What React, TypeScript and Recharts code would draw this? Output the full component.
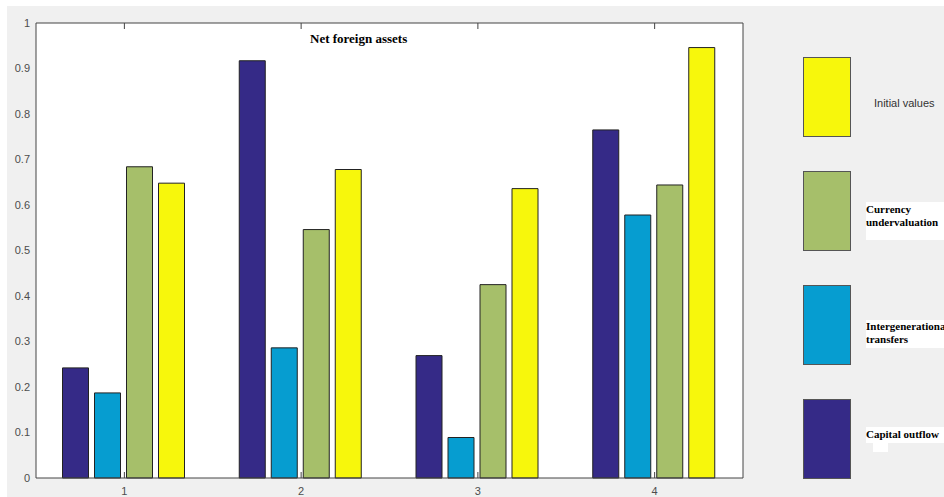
import React from "react";
import { BarChart, Bar, XAxis, YAxis, CartesianGrid } from "recharts";

const categories = ["1", "2", "3", "4"];
const capitalOutflow = [0.242, 0.917, 0.269, 0.765];
const intergenerational = [0.187, 0.286, 0.089, 0.578];
const currencyUndervaluation = [0.684, 0.546, 0.425, 0.644];
const initialValues = [0.648, 0.678, 0.636, 0.946];
const yTicks = [0, 0.1, 0.2, 0.3, 0.4, 0.5, 0.6, 0.7, 0.8, 0.9, 1];
const yTickLabels = ["0", "0.1", "0.2", "0.3", "0.4", "0.5", "0.6", "0.7", "0.8", "0.9", "1"];

const series = [
  { key: "capital", name: "Capital outflow", color: "#352a87", values: capitalOutflow },
  { key: "intergen", name: "Intergenerational transfers", color: "#069dd0", values: intergenerational },
  { key: "currency", name: "Currency undervaluation", color: "#a6bf6a", values: currencyUndervaluation },
  { key: "initial", name: "Initial values", color: "#f7f70c", values: initialValues },
];

const data = categories.map((name, i) => {
  const row: Record<string, string | number> = { name };
  series.forEach((s) => (row[s.key] = s.values[i]));
  return row;
});

// legend label look, top to bottom (initial, currency, intergen, capital)
const legendLabelStyles: Record<string, React.CSSProperties> = {
  initial: {
    top: 97, left: 874, fontFamily: "'Liberation Sans', Arial, sans-serif",
    fontSize: 11, color: "#333", whiteSpace: "nowrap",
  },
  currency: {
    top: 202, left: 866, width: 78, height: 38, background: "#fff",
    fontFamily: "'Liberation Serif', 'Times New Roman', serif", fontWeight: "bold",
    fontSize: 11, lineHeight: "13px", paddingTop: 1, boxSizing: "border-box",
  },
  intergen: {
    top: 320, left: 866, width: 78, height: 28, background: "#fff",
    fontFamily: "'Liberation Serif', 'Times New Roman', serif", fontWeight: "bold",
    fontSize: 11, lineHeight: "13px", paddingTop: 0, boxSizing: "border-box",
    overflow: "hidden", whiteSpace: "nowrap",
  },
  capital: {
    top: 427, left: 866, width: 78, height: 16, background: "#fff",
    fontFamily: "'Liberation Serif', 'Times New Roman', serif", fontWeight: "bold",
    fontSize: 11, lineHeight: "13px", paddingTop: 1, boxSizing: "border-box",
    whiteSpace: "nowrap",
  },
};

const labelLines: Record<string, string[]> = {
  initial: ["Initial values"],
  currency: ["Currency", "undervaluation"],
  intergen: ["Intergenerational", "transfers"],
  capital: ["Capital outflow"],
};

const axisColor = "#444";
const tickFont = { fontSize: 11, fill: "#4d4d4d", fontFamily: "'Liberation Sans', Arial, sans-serif" };
const noLabel = () => <g />;

export default function App() {
  const legendItems = [...series].reverse();
  return (
    <div style={{ position: "absolute", left: 0, top: 0, width: 944, height: 497, background: "#fff", overflow: "hidden" }}>
      <div style={{ position: "absolute", left: 7, top: 6, width: 937, height: 491, background: "#f0f0f0" }} />
      <div style={{ position: "absolute", left: 0, top: 0 }}>
        <BarChart
          width={944}
          height={497}
          data={data}
          margin={{ top: 22, right: 200, left: 0, bottom: 0 }}
          barCategoryGap="15%"
          barGap={6}
        >
          <CartesianGrid fill="#fff" horizontal={false} vertical={false} />
          <XAxis
            dataKey="name"
            height={19}
            stroke={axisColor}
            tickSize={-6}
            tickMargin={15}
            tick={tickFont}
            tickLine={{ stroke: axisColor }}
          />
          <XAxis
            xAxisId="top"
            dataKey="name"
            orientation="top"
            height={1}
            tick={noLabel}
            tickSize={-6}
            tickLine={{ stroke: axisColor }}
            stroke={axisColor}
          />
          <YAxis
            domain={[0, 1]}
            ticks={yTicks}
            width={36}
            tickLine={false}
            tickSize={0}
            tickMargin={6}
            stroke={axisColor}
            tick={tickFont}
            tickFormatter={(v: number) => yTickLabels[yTicks.indexOf(v)] ?? String(v)}
            interval={0}
          />
          <YAxis
            yAxisId="right"
            orientation="right"
            domain={[0, 1]}
            ticks={yTicks}
            width={1}
            tick={noLabel}
            tickSize={-6}
            tickLine={{ stroke: axisColor }}
            stroke={axisColor}
            interval={0}
          />
          {series.map((s) => (
            <Bar
              key={s.key}
              dataKey={s.key}
              name={s.name}
              fill={s.color}
              stroke="#222"
              strokeWidth={1}
              isAnimationActive={false}
            />
          ))}
        </BarChart>
      </div>
      <div
        style={{
          position: "absolute", left: 310, top: 31, fontFamily: "'Liberation Serif', 'Times New Roman', serif",
          fontWeight: "bold", fontSize: 13, color: "#000", whiteSpace: "nowrap",
        }}
      >
        Net foreign assets
      </div>
      {legendItems.map((s, i) => (
        <React.Fragment key={s.key}>
          <div
            style={{
              position: "absolute", left: 803, top: 57 + i * 114, width: 48, height: 80,
              background: s.color, border: "1px solid #555", boxSizing: "border-box",
            }}
          />
          <div style={{ position: "absolute", ...legendLabelStyles[s.key] }}>
            {labelLines[s.key].map((line) => (
              <div key={line}>{line}</div>
            ))}
          </div>
        </React.Fragment>
      ))}
      <div style={{ position: "absolute", left: 873, top: 443, width: 15, height: 9, background: "#fff" }} />
    </div>
  );
}
